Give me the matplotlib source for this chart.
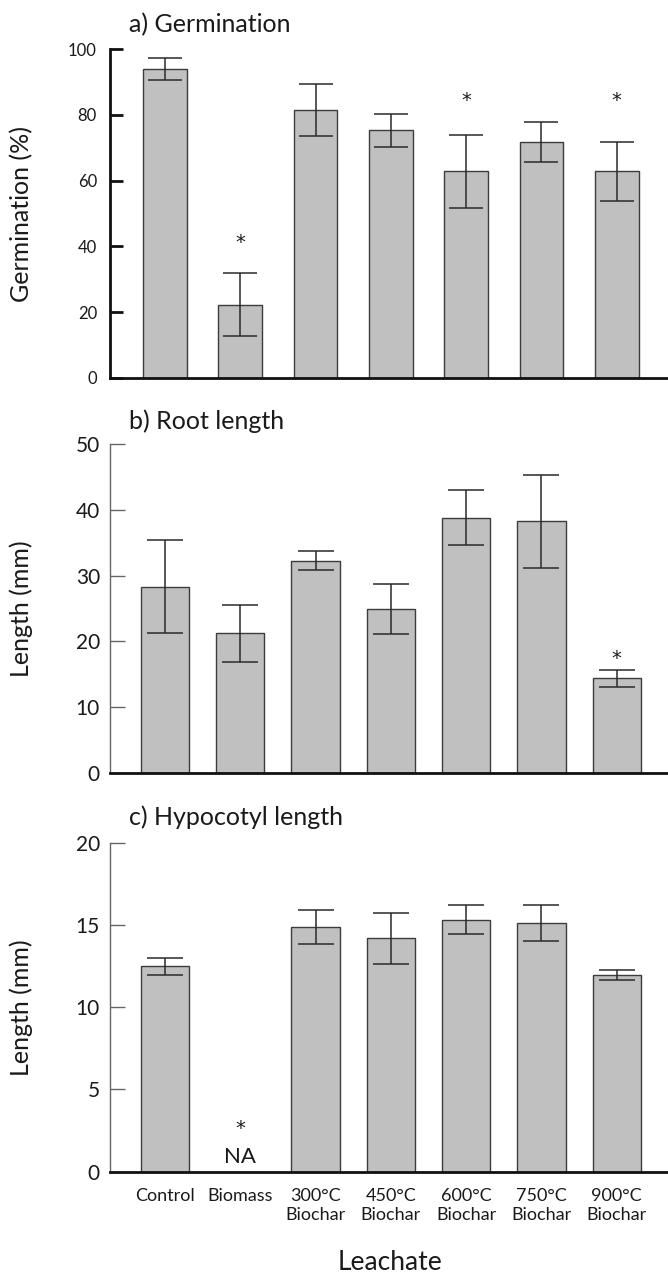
import matplotlib
matplotlib.use("Agg")
import matplotlib.pyplot as plt
import numpy as np

# ---- data ----
categories = ["Control", "Biomass", "300°C\nBiochar", "450°C\nBiochar",
              "600°C\nBiochar", "750°C\nBiochar", "900°C\nBiochar"]

germ_mean = [94.0, 22.2, 81.5, 75.3, 62.8, 71.8, 62.8]
germ_err = [3.5, 9.6, 8.0, 5.0, 11.2, 6.1, 8.9]
germ_star = [None, 41.2, None, None, 84.3, None, 84.3]

root_mean = [28.3, 21.2, 32.3, 24.9, 38.8, 38.3, 14.4]
root_err = [7.1, 4.3, 1.5, 3.8, 4.2, 7.1, 1.3]
root_star = [None, None, None, None, None, None, 17.4]

hypo_mean = [12.5, np.nan, 14.9, 14.2, 15.35, 15.15, 12.0]
hypo_err = [0.5, np.nan, 1.05, 1.55, 0.87, 1.1, 0.3]
hypo_star = [None, 2.6, None, None, None, None, None]
hypo_na = [None, 0.9, None, None, None, None, None]

panel_titles = ["a) Germination", "b) Root length", "c) Hypocotyl length"]
ylabels = ["Germination (%)", "Length (mm)", "Length (mm)"]
yticks_list = [[0, 20, 40, 60, 80, 100], [0, 10, 20, 30, 40, 50], [0, 5, 10, 15, 20]]
xlabel = "Leachate"

# ---- style ----
plt.rcParams['font.family'] = ['Lato', 'DejaVu Sans']
W, H = 668, 1278
fig = plt.figure(figsize=(W / 100, H / 100), dpi=100)

bar_face = "#c0c0c0"
bar_edge = "#3c3c3c"
txt = "#1a1a1a"

left_px = 110
ax_tops = [49.3, 444.3, 843.3]
ax_bots = [377.7, 772.7, 1171.5]
title_y = [25, 421.5, 817]
bar_widths = [0.58, 0.64, 0.64]
tick_fs = [12, 15, 15]
tick_pad = [9.4, 7.2, 7.2]
tick_len = [9.4, 10.8, 10.8]
spine_col = ["#111111", "#666666", "#666666"]
spine_w = [2.0, 1.0, 1.0]
caps = [12, 13, 13]

means = [germ_mean, root_mean, hypo_mean]
errs = [germ_err, root_err, hypo_err]
stars = [germ_star, root_star, hypo_star]

x = np.arange(len(categories))

for i in range(3):
    ax = fig.add_axes([left_px / W, 1 - ax_bots[i] / H,
                       (W - left_px) / W, (ax_bots[i] - ax_tops[i]) / H])
    m = np.array(means[i], dtype=float)
    e = np.array(errs[i], dtype=float)
    ax.bar(x, np.nan_to_num(m), width=bar_widths[i], color=bar_face,
           edgecolor=bar_edge, linewidth=1.0, zorder=2)
    ax.errorbar(x, m, yerr=e, fmt='none', ecolor="#2a2a2a",
                elinewidth=1.1, capsize=caps[i], capthick=1.1, zorder=3)
    for xi, s in zip(x, stars[i]):
        if s is not None:
            ax.text(xi, s, "*", ha='center', va='center', fontsize=14,
                    color=txt, family='DejaVu Sans')
    ax.set_xlim(-0.73, 6.68)
    yt = yticks_list[i]
    ax.set_ylim(yt[0], yt[-1])
    ax.set_yticks(yt)
    ax.tick_params(axis='y', direction='in', length=tick_len[i], width=spine_w[i],
                   color=spine_col[i], labelsize=tick_fs[i], labelcolor=txt,
                   pad=tick_pad[i])
    ax.tick_params(axis='x', length=0)
    for sp in ['top', 'right']:
        ax.spines[sp].set_visible(False)
    ax.spines['left'].set_color(spine_col[i])
    ax.spines['left'].set_linewidth(spine_w[i])
    ax.spines['bottom'].set_color("#111111")
    ax.spines['bottom'].set_linewidth(2.0)
    ax.set_ylabel(ylabels[i], fontsize=18, color=txt)
    ax.yaxis.set_label_coords(-(left_px - 33) / (W - left_px), 0.5)
    if i < 2:
        ax.set_xticks([])
    else:
        ax.set_xticks(x)
        ax.set_xticklabels(categories, fontsize=13, color=txt, linespacing=1.25)
        ax.tick_params(axis='x', pad=12)
        for xi, v in zip(x, hypo_na):
            if v is not None:
                ax.text(xi, v, "NA", ha='center', va='center', fontsize=16, color=txt)
    fig.text(129 / W, 1 - title_y[i] / H, panel_titles[i], fontsize=18,
             color=txt, ha='left', va='center')

fig.text(390 / W, 1 - 1263 / H, xlabel, fontsize=19, color=txt,
         ha='center', va='center')

fig.savefig("out.png", dpi=100, facecolor="white")
